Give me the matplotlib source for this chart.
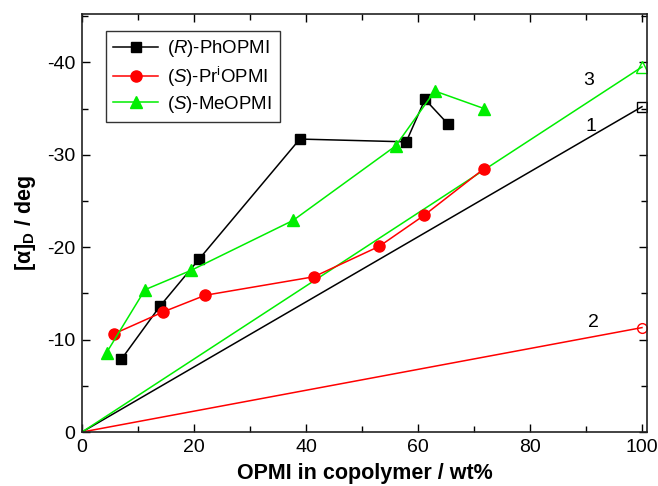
import matplotlib
matplotlib.use('Agg')
import matplotlib.pyplot as plt
from matplotlib.ticker import MultipleLocator

plt.rcParams['font.family'] = ['Liberation Sans', 'DejaVu Sans']
plt.rcParams['mathtext.fontset'] = 'custom'
plt.rcParams['mathtext.rm'] = 'Liberation Sans'
plt.rcParams['mathtext.it'] = 'Liberation Sans:italic'
plt.rcParams['mathtext.bf'] = 'Liberation Sans:bold'
plt.rcParams['axes.unicode_minus'] = False

# optical rotation vs. OPMI content in copolymer
ph_x = [7.0, 13.9, 20.9, 38.9, 57.9, 61.25, 65.4]
ph_y = [-7.85, -13.6, -18.7, -31.7, -31.4, -36.0, -33.3]

pr_x = [5.8, 14.5, 22.0, 41.4, 53.1, 61.1, 71.8]
pr_y = [-10.65, -13.0, -14.8, -16.8, -20.1, -23.45, -28.5]

me_x = [4.4, 11.25, 19.5, 37.7, 56.0, 63.0, 71.8]
me_y = [-8.6, -15.4, -17.5, -22.9, -30.95, -36.9, -35.0]

# homopolymer values, linear reference lines from origin
homo_x = [0, 100]
homo_ph = [0, -35.2]
homo_pr = [0, -11.3]
homo_me = [0, -39.5]

ref_labels = ['1', '2', '3']
ref_label_x = [90.9, 91.4, 90.5]
ref_label_y = [-33.1, -11.9, -38.0]

fig = plt.figure(figsize=(6.58, 4.86), dpi=100)
ax = fig.add_axes([0.1246, 0.111, 0.8587, 0.8596])

green = '#00ee00'
red = '#ff0000'

ax.plot(homo_x, homo_ph, color='black', lw=1.1)
ax.plot(homo_x[-1:], homo_ph[-1:], ls='none', marker='s', ms=7, mfc='none', mec='black', mew=1)
ax.plot(homo_x, homo_pr, color=red, lw=1.1)
ax.plot(homo_x[-1:], homo_pr[-1:], ls='none', marker='o', ms=7, mfc='none', mec=red, mew=1)
ax.plot(homo_x, homo_me, color=green, lw=1.1)
ax.plot(homo_x[-1:], homo_me[-1:], ls='none', marker='^', ms=9, mfc='none', mec=green, mew=1)

ax.plot(ph_x, ph_y, color='black', lw=1.1, marker='s', ms=7, label=r'($\mathit{R}$)-PhOPMI')
ax.plot(pr_x, pr_y, color=red, lw=1.1, marker='o', ms=8, label=r'($\mathit{S}$)-Pr$^{\mathrm{i}}$OPMI')
ax.plot(me_x, me_y, color=green, lw=1.1, marker='^', ms=9, label=r'($\mathit{S}$)-MeOPMI')

for lab, lx, ly in zip(ref_labels, ref_label_x, ref_label_y):
    ax.text(lx, ly, lab, fontsize=14, ha='center', va='center')

ax.set_xlim(0, 100.9)
ax.set_ylim(0, -45.2)
ax.xaxis.set_major_locator(MultipleLocator(20))
ax.xaxis.set_minor_locator(MultipleLocator(10))
ax.yaxis.set_major_locator(MultipleLocator(10))
ax.yaxis.set_minor_locator(MultipleLocator(5))
ax.tick_params(which='both', direction='in', top=True, right=True, labelsize=14)
ax.tick_params(which='major', length=6, width=1, pad=5)
ax.tick_params(which='minor', length=4, width=1)
for sp in ax.spines.values():
    sp.set_linewidth(1.2)
    sp.set_color('#222222')

ax.set_xlabel('OPMI in copolymer / wt%', fontsize=15.5, fontweight='bold', labelpad=5)
ax.set_ylabel(r'[$\mathbf{\alpha}$]$_{\mathbf{D}}$ / deg', fontsize=15.5, fontweight='bold', labelpad=6)

leg = ax.legend(loc='upper left', bbox_to_anchor=(0.0425, 0.96), borderaxespad=0,
                fontsize=13.4, frameon=True, fancybox=False, edgecolor='black',
                handlelength=2.4, numpoints=1, borderpad=0.4, labelspacing=0.28,
                handletextpad=0.5)
leg.get_frame().set_linewidth(1)

fig.savefig('out.png', dpi=100)
